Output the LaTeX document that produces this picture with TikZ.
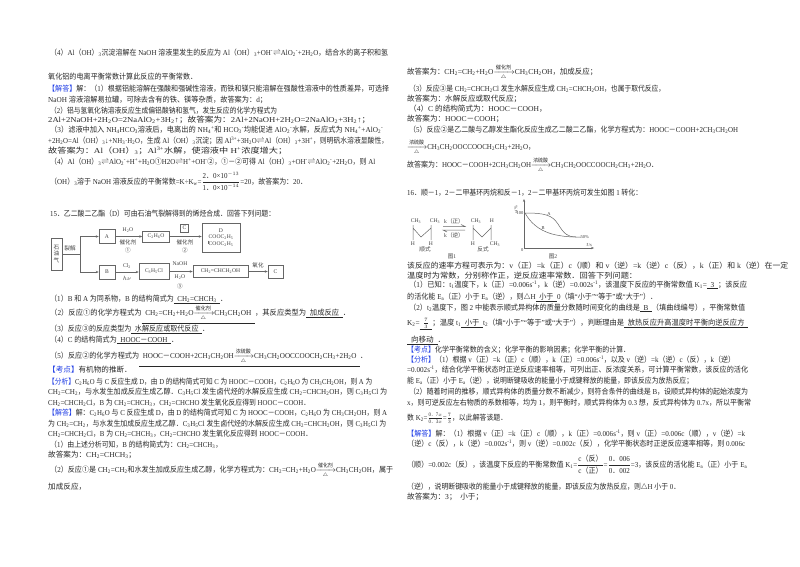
\documentclass[tikz,border=0pt]{standalone}
\usepackage{amsmath}
\usepackage{graphicx}
\usepackage{fontspec}
\setmainfont{Liberation Serif}
\newfontfamily\cjk{Noto Sans CJK SC}
\usetikzlibrary{arrows.meta}
\XeTeXinterchartokenstate=1
\newXeTeXintercharclass\cjkcls
\newcount\cc
\def\setcls#1#2{\cc=#1 \loop\XeTeXcharclass\cc=\cjkcls \ifnum\cc<#2 \advance\cc 1 \repeat}
\setcls{"3000}{"303F}
\setcls{"4E00}{"9FFF}
\setcls{"FF00}{"FFEF}
\setcls{"2460}{"2473}
\XeTeXinterchartoks 0 \cjkcls = {\cjk}
\XeTeXinterchartoks 4095 \cjkcls = {\cjk}
\XeTeXinterchartoks \cjkcls 0 = {\rmfamily}
\XeTeXinterchartoks \cjkcls 4095 = {\rmfamily}
\definecolor{blu}{RGB}{30,60,230}
\definecolor{ink}{RGB}{40,40,40}
\newcommand\xd[1]{\textsubscript{#1}}
\newcommand\xu[1]{\textsuperscript{#1}}
\newcommand\bl[1]{{\color{blu}#1}}
\newcommand\ans[1]{\underline{\hbox{\ \ #1\ \ }}}
\newcommand\rarr[2]{\ensuremath{\xrightarrow[\text{#2}]{\text{#1}}}}
\newcommand\rev{\ensuremath{\rightleftharpoons}}
\newcommand\fs{\fontsize{7.6}{9}\selectfont}
\newcommand\fsm{\fontsize{5.6}{6.4}\selectfont}
\newsavebox\lbox
\newcommand\fit[2]{\sbox\lbox{#2}\pgfmathsetmacro\rr{#1/\wd\lbox}\scalebox{\rr}[1]{\usebox\lbox}}
\begin{document}
\begin{tikzpicture}[x=1pt,y=-1pt,
  ln/.style={anchor=base west, inner sep=0, font=\fs, text=ink},
  bx/.style={draw=black!60, line width=0.5pt, inner sep=1pt, font=\fsm, text=black!75, align=center},
  lab/.style={font=\fsm, inner sep=0.5pt, text=black!75},
  arr/.style={-{Stealth[length=3pt,width=2.4pt]}, draw=black!60, line width=0.5pt},
  pl/.style={draw=black!60, line width=0.5pt}]
\useasboundingbox (0,0) rectangle (800,566);
\fill[white] (0,0) rectangle (800,566);
% ---------------- left column
\node[ln] (l1) at (50,55) {\fit{338}{（4）Al（OH）\xd{3}沉淀溶解在 NaOH 溶液里发生的反应为 Al（OH）\xd{3}+OH\xu{-}\rev AlO\xd{2}\xu{-}+2H\xd{2}O，结合水的离子积和氢}};
\node[ln] (l2) at (48,79) {\fit{149}{氧化铝的电离平衡常数计算此反应的平衡常数．}};
\node[ln] (l3) at (48,91) {\fit{341}{\bl{【解答】}解：（1）根据铝能溶解在强酸和强碱性溶液，而铁和镁只能溶解在强酸性溶液中的性质差异，可选择}};
\node[ln] (l4) at (48,102) {\fit{219}{NaOH 溶液溶解易拉罐，可除去含有的铁、镁等杂质，故答案为：d；}};
\node[ln] (l5) at (50,113) {\fit{227}{（2）铝与氢氧化钠溶液反应生成偏铝酸钠和氢气，发生反应的化学方程式为}};
\node[ln] (l6) at (48,122) {\fit{322}{2Al+2NaOH+2H\xd{2}O=2NaAlO\xd{2}+3H\xd{2}↑；故答案为：2Al+2NaOH+2H\xd{2}O=2NaAlO\xd{2}+3H\xd{2}↑；}};
\node[ln] (l7) at (50,132) {\fit{333}{（3）滤液中加入 NH\xd{4}HCO\xd{3}溶液后，电离出的 NH\xd{4}\xu{+}和 HCO\xd{3}\xu{-}均能促进 AlO\xd{2}\xu{-}水解，反应式为 NH\xd{4}\xu{+}+AlO\xd{2}\xu{-}}};
\node[ln] (l8) at (48,143) {\fit{340}{+2H\xd{2}O=Al（OH）\xd{3}↓+NH\xd{3}·H\xd{2}O，生成 Al（OH）\xd{3}沉淀；因 Al\xu{3+}+3H\xd{2}O\rev Al（OH）\xd{3}+3H\xu{+}，则明矾水溶液显酸性，}};
\node[ln] (l9) at (48,153) {\fit{239}{故答案为：Al（OH）\xd{3}；Al\xu{3+}水解，使溶液中 H\xu{+}浓度增大；}};
\node[ln] (l10) at (50,164) {\fit{325}{（4）Al（OH）\xd{3}\rev AlO\xd{2}\xu{-}+H\xu{+}+H\xd{2}O①H2O\rev H\xu{+}+OH\xu{-}②，①－②可得 Al（OH）\xd{3}+OH\xu{-}\rev AlO\xd{2}\xu{-}+2H\xd{2}O，则 Al}};
\node[ln] (l11) at (50,184) {\fit{257}{（OH）\xd{3}溶于 NaOH 溶液反应的平衡常数=K÷K\xd{w}=$\dfrac{\text{2．0×10}^{-13}}{\text{1．0×10}^{-14}}$=20，故答案为：20．}};
\node[ln] (q15) at (50,216) {\fit{225}{15．乙二酸二乙酯（D）可由石油气裂解得到的烯烃合成．回答下列问题：}};
% diagram
\node[bx, minimum width=11pt, minimum height=32pt, inner sep=0.5pt] (oil) at (56.5,254) {石\\油\\气};
\coordinate (split) at (80,254);
\coordinate (topb) at (80,236.5);
\coordinate (botb) at (80,272);
\node[bx, minimum width=16pt, minimum height=14pt] (A) at (107,236.5) {A};
\node[bx, minimum width=27pt, minimum height=11pt] (c2h) at (156,236.5) {C\xd{2}H\xd{6}O};
\node[bx, minimum width=38pt, minimum height=29pt, inner sep=0.5pt] (D) at (221,237.5) {D\\COOC\xd{2}H\xd{5}\\COOC\xd{2}H\xd{5}};
\node[bx, minimum width=16pt, minimum height=14pt] (B) at (107,272) {B};
\node[bx, minimum width=30pt, minimum height=16pt] (c3h) at (154,271.5) {C\xd{3}H\xd{5}Cl};
\node[bx, minimum width=55pt, minimum height=12pt] (allyl) at (220.5,271.5) {CH\xd{2}=CHCH\xd{2}OH};
\node[bx, minimum width=15pt, minimum height=13pt] (C) at (275.5,271.5) {C};
\draw[pl] (oil.east) -- (split) (topb) -- (botb);
\draw[arr] (topb) -- (A.west);
\draw[arr] (botb) -- (B.west);
\node[lab] (lj) at (70,248) {裂解};
\draw[arr] (A.east) -- (c2h.west);
\node[lab] (a1) at (128,230) {H\xd{2}O};
\node[lab] (a2) at (128,242) {催化剂};
\node[lab] (a3) at (128,250) {①};
\draw[arr] (c2h.east) -- (A.east -| D.west);
\node[bx, minimum width=8pt, minimum height=8pt, inner sep=0.5pt] (cbox) at (184.5,228) {C};
\node[lab] (b2) at (185,242) {催化剂};
\node[lab] (b3) at (185,250) {②};
\draw[pl] (208.5,240.5) -- (208.5,244);
\draw[arr] (B.east) -- (B.east -| c3h.west);
\node[lab] (c1) at (127,266) {Cl\xd{2}};
\node[lab] (c2) at (127,278) {$h\nu$};
\draw[arr] (c3h.east) -- (c3h.east -| allyl.west);
\node[lab] (d1) at (180,264) {NaOH};
\node[lab] (d2) at (180,277) {H\xd{2}O};
\node[lab] (d3) at (180,286) {③};
\draw[arr] (allyl.east) -- (allyl.east -| C.west);
\node[lab] (e1) at (258,265) {氧化};
% questions
\node[ln] (q1) at (50,301) {\fit{177}{（1）B 和 A 为同系物，B 的结构简式为\ans{CH\xd{2}=CHCH\xd{3}}．}};
\node[ln] (q2) at (50,315) {\fit{300}{（2）反应①的化学方程式为\ans{CH\xd{2}=CH\xd{2}+H\xd{2}O\rarr{催化剂}{$\triangle$}CH\xd{3}CH\xd{2}OH}，其反应类型为\ans{加成反应}．}};
\node[ln] (q3) at (50,331) {\fit{159}{（3）反应③的反应类型为\ans{水解反应或取代反应}．}};
\node[ln] (q4) at (50,342) {\fit{128}{（4）C 的结构简式为\ans{HOOC－COOH}．}};
\node[ln] (q5) at (50,358) {\fit{317}{（5）反应②的化学方程式为\ans{HOOC－COOH+2CH\xd{3}CH\xd{2}OH\rarr{浓硫酸}{$\triangle$}CH\xd{3}CH\xd{2}OOCCOOCH\xd{2}CH\xd{3}+2H\xd{2}O}．}};
\node[ln] (k1) at (48,372) {\bl{【考点】}有机物的推断．};
\node[ln] (f1) at (48,384) {\fit{324}{\bl{【分析】}C\xd{2}H\xd{6}O 与 C 反应生成 D，由 D 的结构简式可知 C 为 HOOC－COOH，C\xd{2}H\xd{6}O 为 CH\xd{3}CH\xd{2}OH，则 A 为}};
\node[ln] (f2) at (48,394) {\fit{339}{CH\xd{2}=CH\xd{2}，与水发生加成反应生成乙醇．C\xd{3}H\xd{5}Cl 发生卤代烃的水解反应生成 CH\xd{2}=CHCH\xd{2}OH，则 C\xd{3}H\xd{5}Cl 为}};
\node[ln] (f3) at (48,405) {\fit{262}{CH\xd{2}=CHCH\xd{2}Cl，B 为 CH\xd{2}=CHCH\xd{3}，CH\xd{2}=CHCHO 发生氧化反应得到 HOOC－COOH．}};
\node[ln] (j1) at (48,415) {\fit{339}{\bl{【解答】}解：C\xd{2}H\xd{6}O 与 C 反应生成 D，由 D 的结构简式可知 C 为 HOOC－COOH，C\xd{2}H\xd{6}O 为 CH\xd{3}CH\xd{2}OH，则 A}};
\node[ln] (j2) at (48,426) {\fit{338}{为 CH\xd{2}=CH\xd{2}，与水发生加成反应生成乙醇．C\xd{3}H\xd{5}Cl 发生卤代烃的水解反应生成 CH\xd{2}=CHCH\xd{2}OH，则 C\xd{3}H\xd{5}Cl 为}};
\node[ln] (j3) at (48,436) {\fit{264}{CH\xd{2}=CHCH\xd{2}Cl，B 为 CH\xd{2}=CHCH\xd{3}，CH\xd{2}=CHCHO 发生氧化反应得到 HOOC－COOH．}};
\node[ln] (j4) at (50,447) {\fit{172}{（1）由上述分析可知，B 的结构简式为：CH\xd{2}=CHCH\xd{3}，}};
\node[ln] (j5) at (48,457) {故答案为：CH\xd{2}=CHCH\xd{3}；};
\node[ln] (j6) at (50,472) {\fit{343}{（2）反应①是 CH\xd{2}=CH\xd{2}和水发生加成反应生成乙醇，化学方程式为：CH\xd{2}=CH\xd{2}+H\xd{2}O\rarr{催化剂}{$\triangle$}CH\xd{3}CH\xd{2}OH，属于}};
\node[ln] (j7) at (48,489) {加成反应，};
% ---------------- right column
\node[ln] (r1) at (407,74) {\fit{190}{故答案为：CH\xd{2}=CH\xd{2}+H\xd{2}O\rarr{催化剂}{$\triangle$}CH\xd{3}CH\xd{2}OH，加成反应；}};
\node[ln] (r2) at (409,91) {\fit{256}{（3）反应③是 CH\xd{2}=CHCH\xd{2}Cl 发生水解反应生成 CH\xd{2}=CHCH\xd{2}OH，也属于取代反应，}};
\node[ln] (r3) at (407,101) {故答案为：水解反应或取代反应；};
\node[ln] (r4) at (409,111) {（4）C 的结构简式为：HOOC－COOH，};
\node[ln] (r5) at (407,121) {故答案为：HOOC－COOH；};
\node[ln] (r6) at (409,132) {\fit{329}{（5）反应②是乙二酸与乙醇发生酯化反应生成乙二酸二乙酯，化学方程式为：HOOC－COOH+2CH\xd{3}CH\xd{2}OH}};
\node[ln] (r7) at (407,149) {\fit{128}{\rarr{浓硫酸}{$\triangle$}CH\xd{3}CH\xd{2}OOCCOOCH\xd{2}CH\xd{3}+2H\xd{2}O，}};
\node[ln] (r8) at (407,167) {\fit{251}{故答案为：HOOC－COOH+2CH\xd{3}CH\xd{2}OH\rarr{浓硫酸}{$\triangle$}CH\xd{3}CH\xd{2}OOCCOOCH\xd{2}CH\xd{3}+2H\xd{2}O．}};
\node[ln] (q16) at (407,195) {\fit{235}{16．顺－1，2－二甲基环丙烷和反－1，2－二甲基环丙烷可发生如图 1 转化：}};
% figure 1
\node[lab] (m1) at (416,221) {CH\xd{3}};
\node[lab] (m2) at (435,221) {CH\xd{3}};
\draw[pl] (413,225) -- (413,240) (431,225) -- (431,240) (413,228) -- (421,237) -- (431,228);
\node[lab] (h1) at (413,243.5) {H};
\node[lab] (h2) at (431,243.5) {H};
\node[lab] (shun) at (425,249) {顺式};
\draw[pl] (443,226.5) -- (465,226.5) -- (461,224.5);
\draw[pl] (465,230) -- (443,230) -- (447,232);
\node[lab] (kz) at (454,221.5) {k（正）};
\node[lab] (kn) at (454,235.5) {k（逆）};
\node[lab] (m3) at (476,221) {CH\xd{3}};
\node[lab] (h3) at (492,221) {H};
\draw[pl] (473,225) -- (473,240) (491,225) -- (491,240) (473,228) -- (482,237) -- (491,228);
\node[lab] (h4) at (473,243.5) {H};
\node[lab] (m4) at (495,244) {CH\xd{3}};
\node[lab] (fan) at (483,249) {反式};
\node[lab] (t1) at (452,256) {图1};
% figure 2
\coordinate (o) at (524,248);
\draw[arr] (o) -- (524,199);
\draw[arr] (o) -- (594,248);
\node[lab, rotate=90, font=\fontsize{4.5}{5}\selectfont] (yl) at (516,210) {ω/\%};
\node[lab, font=\fontsize{4.5}{5}\selectfont, anchor=east] (y100) at (524,213) {100};
\node[lab, font=\fontsize{4.5}{5}\selectfont, anchor=north east] (y0) at (524,248) {0};
\node[lab, font=\fontsize{4.5}{5}\selectfont, anchor=south] (tx) at (589,247) {$t$/s};
\draw[pl] (525,213) .. controls (545,213) and (552,215) .. (558,224) .. controls (564,234) and (568,237) .. (576,237) -- (581,237);
\draw[pl] (525,213) .. controls (530,222) and (538,230) .. (552,234) .. controls (560,236) and (568,237) .. (576,237);
\node[lab, font=\fontsize{4.5}{5}\selectfont] (ca) at (549,214) {A};
\node[lab, font=\fontsize{4.5}{5}\selectfont] (cb) at (543,228) {B};
\node[lab, font=\fontsize{4.5}{5}\selectfont, anchor=west] (p50) at (580,237) {50\%};
\node[lab] (t2) at (553,256) {图2};
% text
\node[ln] (s1) at (407,268) {\fit{381}{该反应的速率方程可表示为：v（正）=k（正）c（顺）和 v（逆）=k（逆）c（反），k（正）和 k（逆）在一定}};
\node[ln] (s2) at (407,278) {\fit{230}{温度时为常数，分别称作正，逆反应速率常数．回答下列问题：}};
\node[ln] (s3) at (409,287) {\fit{338}{（1）已知：t\xd{1}温度下，k（正）=0.006s\xu{-1}，k（逆）=0.002s\xu{-1}，该温度下反应的平衡常数值 K\xd{1}=\ans{3}；该反应}};
\node[ln] (s4) at (407,299) {\fit{250}{的活化能 E\xd{a}（正）小于 E\xd{a}（逆），则$\triangle$H\ans{小于}0（填“小于”“等于”或“大于”）．}};
\node[ln] (s5) at (409,310) {\fit{336}{（2）t\xd{2}温度下，图 2 中能表示顺式异构体的质量分数随时间变化的曲线是\ans{B}（填曲线编号），平衡常数值}};
\node[ln] (s6) at (407,325) {\fit{341}{K\xd{2}=\ans{$\frac{7}{3}$}；温度 t\xd{1}\ans{小于}t\xd{2}（填“小于”“等于”或“大于”），判断理由是\ans{放热反应升高温度时平衡向逆反应方}}};
\node[ln] (s7) at (407,342) {\ans{向移动}．};
\node[ln] (s8) at (407,352) {\fit{223}{\bl{【考点】}化学平衡常数的含义；化学平衡的影响因素；化学平衡的计算．}};
\node[ln] (s9) at (407,362) {\fit{328}{\bl{【分析】}（1）根据 v（正）=k（正）c（顺），k（正）=0.006s\xu{-1}，以及 v（逆）=k（逆）c（反），k（逆）}};
\node[ln] (s10) at (407,372) {\fit{341}{=0.002s\xu{-1}，结合化学平衡状态时正逆反应速率相等，可列出正、反浓度关系，可计算平衡常数，该反应的活化}};
\node[ln] (s11) at (407,383) {\fit{286}{能 E\xd{a}（正）小于 E\xd{a}（逆），说明断键吸收的能量小于成键释放的能量，即该反应为放热反应；}};
\node[ln] (s12) at (409,394) {\fit{339}{（2）随着时间的推移，顺式异构体的质量分数不断减少，则符合条件的曲线是 B，设顺式异构体的起始浓度为}};
\node[ln] (s13) at (407,405) {\fit{344}{x，则可逆反应左右物质的系数相等，均为 1，则平衡时，顺式异构体为 0.3 想，反式异构体为 0.7x，所以平衡常}};
\node[ln] (s14) at (407,420) {\fit{100}{数 K\xd{2}=$\frac{\text{0．7}x}{\text{0．3}x}$=$\frac{7}{3}$，以此解答该题．}};
\node[ln] (s15) at (407,436) {\fit{338}{\bl{【解答】}解：（1）根据 v（正）=k（正）c（顺），k（正）=0.006s\xu{-1}，则 v（正）=0.006c（顺），v（逆）=k}};
\node[ln] (s16) at (407,446) {\fit{338}{（逆）c（反），k（逆）=0.002s\xu{-1}，则 v（逆）=0.002c（反），化学平衡状态时正逆反应速率相等，则 0.006c}};
\node[ln] (s17) at (407,467) {\fit{340}{（顺）=0.002c（反），该温度下反应的平衡常数值 K\xd{1}=$\dfrac{\text{c（反）}}{\text{c（正）}}$=$\dfrac{\text{0．006}}{\text{0．002}}$=3，该反应的活化能 E\xd{a}（正）小于 E\xd{a}}};
\node[ln] (s18) at (407,489) {\fit{273}{（逆），说明断键吸收的能量小于成键释放的能量，即该反应为放热反应，则$\triangle$H 小于 0．}};
\node[ln] (s19) at (407,499) {故答案为：3；\ \ 小于；};
\end{tikzpicture}
\end{document}
